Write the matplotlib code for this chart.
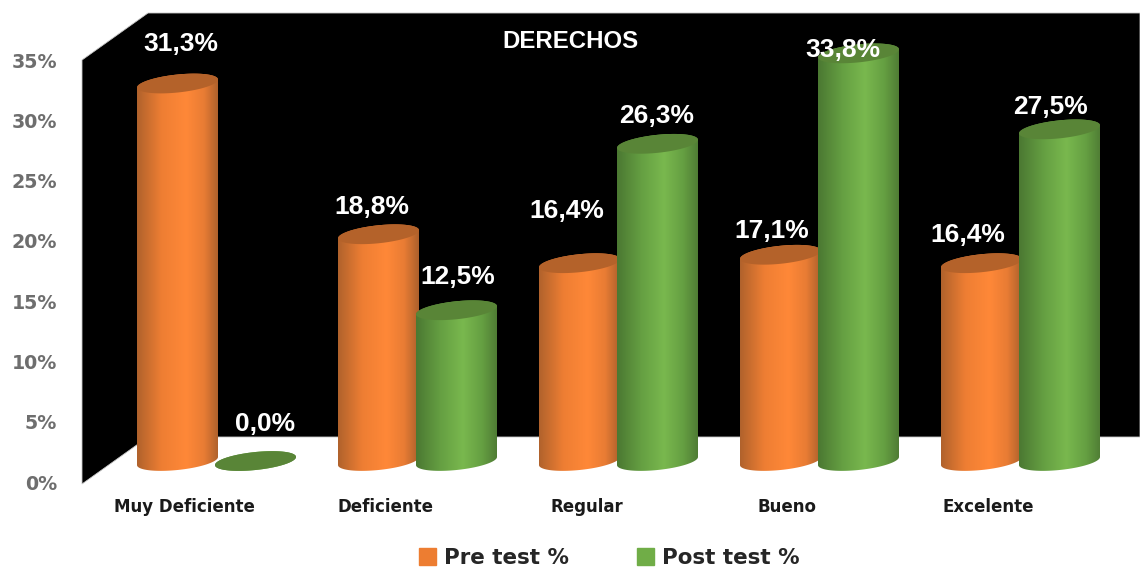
import numpy as np
import matplotlib
matplotlib.use("Agg")
import matplotlib.pyplot as plt
import matplotlib.patches as mpatches
from matplotlib.colors import LinearSegmentedColormap

categorias = ["Muy Deficiente", "Deficiente", "Regular", "Bueno", "Excelente"]
pre_test = [31.3, 18.8, 16.4, 17.1, 16.4]
post_test = [0.0, 12.5, 26.3, 33.8, 27.5]
pre_labels = ["31,3%", "18,8%", "16,4%", "17,1%", "16,4%"]
post_labels = ["0,0%", "12,5%", "26,3%", "33,8%", "27,5%"]
y_ticks = [0, 5, 10, 15, 20, 25, 30, 35]
titulo = "DERECHOS"

# desplazamiento de las etiquetas respecto al tope de cada barra (pixeles)
pre_off = [(3, 40), (-7, 27), (-13, 52), (-9, 24), (-14, 28)]
post_off = [(10, 37), (1, 33), (-1, 28), (-16, 3), (-9, 22)]

W, H = 1140, 569
PX_X = 201.0    # pixeles por categoria
PX_Y = 12.06    # pixeles por punto porcentual
X0 = 216.5      # pixel de la categoria 0
Y0 = 461.0      # pixel de la base de las barras
OFFSET = 39.0 / PX_X
A = 40.5
B = 9.0
TILT = 0.1

naranja = LinearSegmentedColormap.from_list(
    "nar", [(0, "#b0622c"), (0.3, "#ee7e33"), (0.6, "#ff8838"), (0.82, "#e87c34"), (1, "#ac602c")])
verde = LinearSegmentedColormap.from_list(
    "ver", [(0, "#4b7832"), (0.3, "#659f42"), (0.58, "#79b84e"), (0.82, "#659f42"), (1, "#4f7c34")])
TAPA_NAR = "#b4622a"
TAPA_VER = "#598537"

fig = plt.figure(figsize=(W / 100, H / 100), dpi=100, facecolor="white")

# ejes con las marcas del eje y y las categorias (desplazados como en el 3D)
ax_t = fig.add_axes([82 / W, 1 - 482 / H, (W - 82) / W, 422 / H])
ax_t.set_ylim(0, 35)
ax_t.set_xlim((82 - 184.5) / PX_X, (W - 184.5) / PX_X)
ax_t.patch.set_visible(False)
for s in ax_t.spines.values():
    s.set_visible(False)
ax_t.set_yticks(y_ticks)
ax_t.set_yticklabels(["%d%%" % v for v in y_ticks], fontsize=13.7, fontweight="bold",
                     color="#6e6e6e", family="DejaVu Sans")
ax_t.set_xticks(range(len(categorias)))
ax_t.set_xticklabels(categorias, fontsize=12, fontweight="bold", color="#1a1a1a",
                     family="DejaVu Sans")
ax_t.tick_params(axis="y", length=0, pad=18)
ax_t.tick_params(axis="x", length=0, pad=11.5)

ax = fig.add_axes([0, 0, 1, 1], zorder=2)
ax.patch.set_visible(False)
ax.axis("off")
xlim = ((0 - X0) / PX_X, (W - X0) / PX_X)
ylim = ((Y0 - H) / PX_Y, Y0 / PX_Y)


def px(x, y):
    return (x / W, 1 - y / H)


# pared negra del fondo
pared = [(82, 60), (148, 13), (W, 13), (W, 437), (148, 437), (82, 484)]
ax.add_patch(mpatches.Polygon([px(*p) for p in pared], closed=True, transform=ax.transAxes,
                              facecolor="black", edgecolor="#c8c8c8", linewidth=0.6, zorder=1))


def elipse(xc, v, t):
    dx = A * np.cos(t)
    dy = B * np.sin(t) + TILT * dx
    return xc + dx / PX_X, v + dy / PX_Y


def cilindro(xc, v, cmap, tapa, z):
    t_base = np.linspace(np.pi, 2 * np.pi, 60)
    t_top = np.linspace(0, np.pi, 60)
    xb, yb = elipse(xc, 0, t_base)
    xt, yt = elipse(xc, v, t_top)
    cuerpo = np.column_stack([np.r_[xb, xt], np.r_[yb, yt]])
    a = A / PX_X
    grad = np.linspace(0, 1, 256).reshape(1, -1)
    im = ax.imshow(grad, cmap=cmap, aspect="auto", zorder=z, interpolation="bilinear",
                   extent=(xc - a, xc + a, -2, v + 2))
    clip = mpatches.Polygon(cuerpo, closed=True, transform=ax.transData)
    im.set_clip_path(clip)
    t = np.linspace(0, 2 * np.pi, 120)
    xe, ye = elipse(xc, v, t)
    ax.fill(xe, ye, color=tapa, linewidth=0, zorder=z + 0.1)


for i in range(len(categorias)):
    cilindro(i - OFFSET, pre_test[i], naranja, TAPA_NAR, 3 + i)
    cilindro(i + OFFSET, post_test[i], verde, TAPA_VER, 3.5 + i)

for i in range(len(categorias)):
    ax.annotate(pre_labels[i], (i - OFFSET, pre_test[i]), xytext=pre_off[i], textcoords="offset pixels",
                ha="center", va="center", color="white", fontsize=19, fontweight="bold",
                family="Liberation Sans", zorder=20)
    ax.annotate(post_labels[i], (i + OFFSET, post_test[i]), xytext=post_off[i], textcoords="offset pixels",
                ha="center", va="center", color="white", fontsize=19, fontweight="bold",
                family="Liberation Sans", zorder=20)

ax.text(570 / W, 1 - 41 / H, titulo, transform=ax.transAxes, ha="center", va="center",
        color="white", fontsize=17.3, fontweight="bold", family="Liberation Sans", zorder=20)

ax.set_xlim(*xlim)
ax.set_ylim(*ylim)

handles = [mpatches.Patch(color="#ed7d31", label="Pre test %"),
           mpatches.Patch(color="#70ad47", label="Post test %")]
ax.legend(handles=handles, ncol=2, loc="center", bbox_to_anchor=(609 / W, 1 - 558 / H),
          bbox_transform=ax.transAxes, frameon=False, handlelength=0.8, handleheight=0.8,
          handletextpad=0.37, columnspacing=3.2, borderpad=0,
          prop={"family": "DejaVu Sans", "weight": "bold", "size": 15.4}, labelcolor="#262626")

plt.savefig("out.png", dpi=100)
